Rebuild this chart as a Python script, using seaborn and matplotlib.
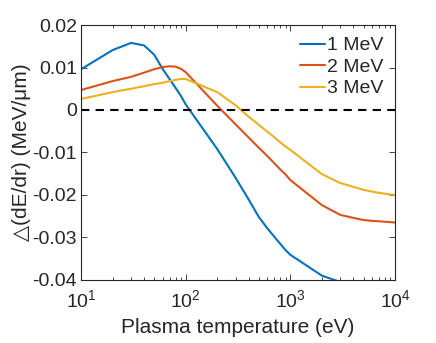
import matplotlib
matplotlib.use("Agg")
import matplotlib.pyplot as plt
import matplotlib.ticker as mticker
import numpy as np
import pandas as pd
import seaborn as sns

# temperature grid (eV)
temps = [10, 20, 30, 40, 50, 60, 70, 80, 90, 100,
         200, 300, 400, 500, 600, 700, 800, 900, 1000,
         2000, 3000, 4000, 5000, 6000, 7000, 8000, 9000, 10000]

mev1 = [0.0096, 0.0141, 0.0158, 0.0152, 0.0130, 0.0097, 0.0073, 0.0052, 0.0033, 0.0013,
        -0.0092, -0.0160, -0.0211, -0.0252, -0.0278, -0.0298, -0.0315, -0.0330, -0.0341,
        -0.0390, -0.0405]
mev2 = [0.0047, 0.0068, 0.0078, 0.0088, 0.0096, 0.0101, 0.0103, 0.0102, 0.0097, 0.0089,
        0.0010, -0.0034, -0.0065, -0.0089, -0.0108, -0.0125, -0.0140, -0.0152, -0.0165,
        -0.0224, -0.0247, -0.0254, -0.0259, -0.0261, -0.0262, -0.0263, -0.0264, -0.0265]
mev3 = [0.0026, 0.0042, 0.0050, 0.0056, 0.0061, 0.0064, 0.0068, 0.0071, 0.0073, 0.0073,
        0.0042, 0.0011, -0.0016, -0.0035, -0.0051, -0.0064, -0.0076, -0.0086, -0.0094,
        -0.0151, -0.0172, -0.0181, -0.0188, -0.0192, -0.0195, -0.0197, -0.0199, -0.0200]

labels = ["1 MeV", "2 MeV", "3 MeV"]
colors = ["#0072BD", "#D95319", "#EDB120"]

frames = []
for lab, vals in zip(labels, [mev1, mev2, mev3]):
    frames.append(pd.DataFrame({"T": temps[:len(vals)], "d": vals, "E": lab}))
df = pd.concat(frames, ignore_index=True)

sns.set_style("ticks")
plt.rcParams["font.family"] = ["Liberation Sans", "DejaVu Sans"]
plt.rcParams["xtick.direction"] = "in"
plt.rcParams["ytick.direction"] = "in"

fig = plt.figure(figsize=(4.36, 3.43), dpi=100)
ax = fig.add_axes([0.186, 0.184, 0.720, 0.743])

sns.lineplot(data=df, x="T", y="d", hue="E", palette=colors, linewidth=1.5,
             ax=ax, estimator=None, sort=False)
ax.axhline(0, color="black", linestyle=(0, (4, 3)), linewidth=1.5)

ax.set_xscale("log")
ax.set_xlim(10, 10000)
ax.set_ylim(-0.04, 0.02)
ax.set_yticks([-0.04, -0.03, -0.02, -0.01, 0, 0.01, 0.02])
ax.yaxis.set_major_formatter(mticker.FuncFormatter(lambda v, p: "0" if abs(v) < 1e-9 else f"{v:g}"))
ax.xaxis.set_minor_locator(mticker.LogLocator(base=10, subs=np.arange(2, 10)))
ax.xaxis.set_minor_formatter(mticker.NullFormatter())

ax.tick_params(which="both", top=True, right=True, color="#262626", labelcolor="#262626",
               labelsize=14)
ax.tick_params(which="major", length=4, width=0.6)
ax.tick_params(axis="y", which="major", pad=3)
ax.tick_params(axis="x", which="major", pad=7)
ax.tick_params(which="minor", length=2, width=0.6)
for s in ax.spines.values():
    s.set_color("#262626")
    s.set_linewidth(0.8)

ax.set_xlabel("Plasma temperature (eV)", fontsize=15, color="#262626", labelpad=5)
ax.set_ylabel("\u25b3(dE/dr) (MeV/\u03bcm)", fontsize=15, color="#262626", labelpad=1)

leg = ax.legend(loc="upper right", frameon=False, fontsize=14, handlelength=1.3,
                handletextpad=0.1, labelspacing=0.2, borderaxespad=0.2)

fig.savefig("out.png", dpi=100)
